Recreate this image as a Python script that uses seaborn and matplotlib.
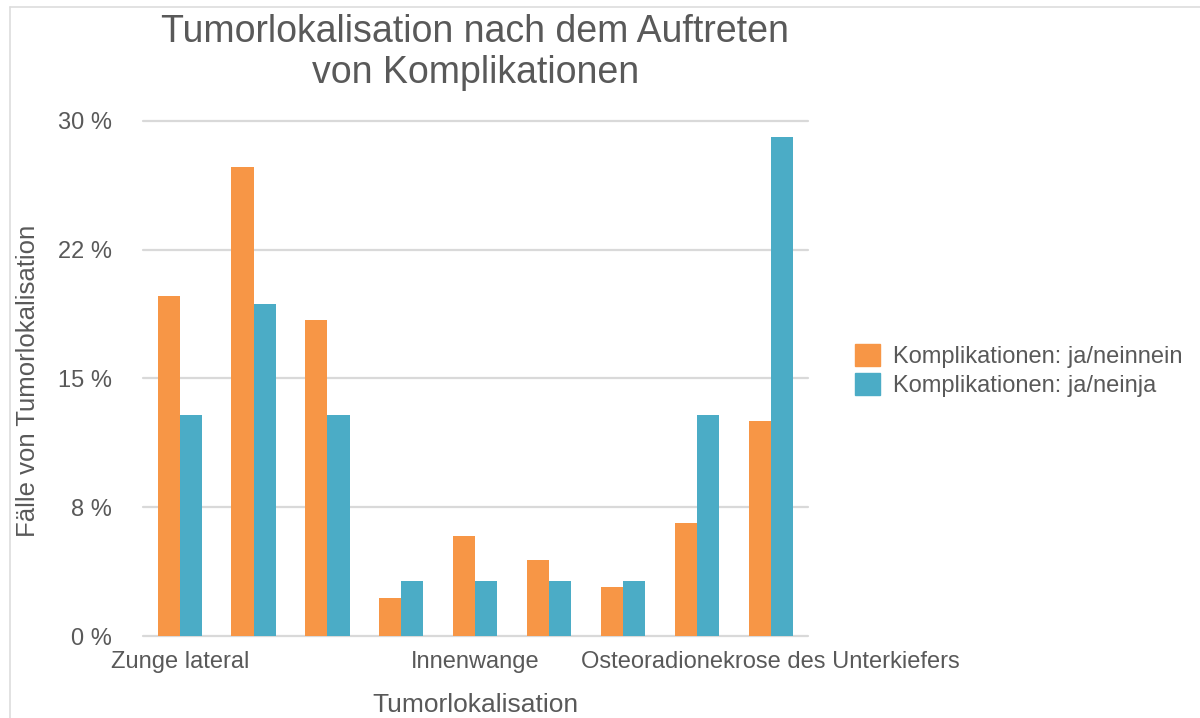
import numpy as np
import pandas as pd
import matplotlib
matplotlib.use('Agg')
import matplotlib.pyplot as plt
from matplotlib.lines import Line2D
import seaborn as sns

# data
categories = ['K1', 'K2', 'K3', 'K4', 'K5', 'K6', 'K7', 'K8', 'K9']
tick_labels = ['Zunge lateral', '', '', '', 'Innenwange', '', '', '',
               'Osteoradionekrose des Unterkiefers']
series_names = ['Komplikationen: ja/neinnein', 'Komplikationen: ja/neinja']
nein_values = [19.8, 27.3, 18.4, 2.2, 5.8, 4.4, 2.85, 6.6, 12.5]
ja_values = [12.9, 19.35, 12.9, 3.2, 3.2, 3.2, 3.2, 12.9, 29.05]
y_ticks = [0, 7.5, 15, 22.5, 30]
y_tick_labels = ['0 %', '8 %', '15 %', '22 %', '30 %']

df = pd.DataFrame({
    'Kategorie': categories * 2,
    'Wert': nein_values + ja_values,
    'Serie': [series_names[0]] * len(categories) + [series_names[1]] * len(categories),
})

sns.set_theme(style='white')
plt.rcParams['font.family'] = ['Liberation Sans', 'DejaVu Sans']
text_col = '#595959'
grid_col = '#D9D9D9'
palette = {series_names[0]: '#F79646', series_names[1]: '#4BACC6'}

fig = plt.figure(figsize=(12, 7.18), dpi=100)
ax = fig.add_axes([0.119, 0.1142, 0.554, 0.7173])

sns.barplot(data=df, x='Kategorie', y='Wert', hue='Serie', order=categories,
            hue_order=series_names, palette=palette, width=0.6, saturation=1,
            linewidth=0, ax=ax, legend=False, zorder=3)

ax.set_ylim(0, 30)
ax.set_xlim(-0.5, len(categories) - 0.5)
ax.set_yticks(y_ticks)
ax.set_yticklabels(y_tick_labels, fontsize=17, color=text_col)
ax.set_xticks(range(len(categories)))
ax.set_xticklabels(tick_labels, fontsize=17, color=text_col)
ax.tick_params(axis='both', length=0)
ax.tick_params(axis='y', pad=22)
ax.tick_params(axis='x', pad=11)
for t in y_ticks:
    ax.axhline(t, color=grid_col, lw=1.6, zorder=1, clip_on=False)
for s in ax.spines.values():
    s.set_visible(False)

ax.set_xlabel('Tumorlokalisation', fontsize=19, color=text_col)
ax.xaxis.set_label_coords(0.5, -0.11)
ax.set_ylabel('Fälle von Tumorlokalisation', fontsize=18.5, color=text_col)
ax.yaxis.set_label_coords(-0.155, 0.495)

fig.text(0.396, 0.927, 'Tumorlokalisation nach dem Auftreten\nvon Komplikationen',
         ha='center', va='center', fontsize=27, color=text_col, linespacing=1.2)

handles = [plt.Rectangle((0, 0), 1, 1, color=palette[n]) for n in series_names]
fig.legend(handles, series_names, loc='center left', bbox_to_anchor=(0.695, 0.484),
           frameon=False, fontsize=17, labelcolor=text_col, handlelength=1.05,
           handleheight=1.05, handletextpad=0.55, labelspacing=0.2)

# thin frame around the chart (left and top only visible)
fig.add_artist(Line2D([10 / 1200, 10 / 1200], [0, 1 - 7 / 718], color='#DDDDDD', lw=1.2))
fig.add_artist(Line2D([10 / 1200, 1], [1 - 7 / 718, 1 - 7 / 718], color='#DDDDDD', lw=1.2))

fig.savefig('out.png', dpi=100, facecolor='white')
